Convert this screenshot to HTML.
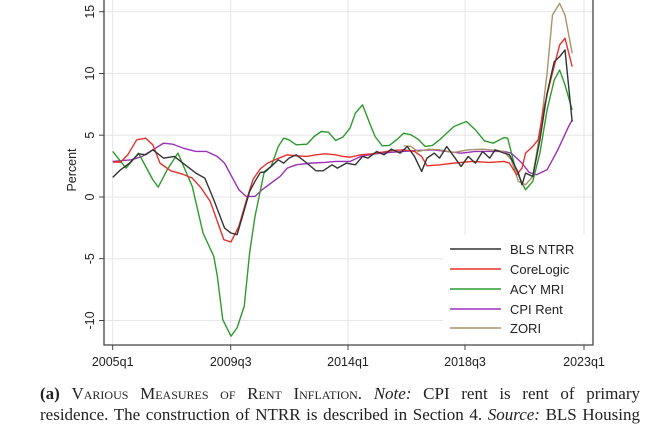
<!DOCTYPE html>
<html><head><meta charset="utf-8"><style>
body{margin:0;background:#fff;width:660px;height:420px;overflow:hidden;position:relative}
.cap{position:absolute;left:40px;width:600px;font-family:"Liberation Serif",serif;font-size:17px;color:#222;white-space:nowrap;text-align:justify;text-align-last:justify}
.sc{font-variant:small-caps}
</style></head><body>
<svg width="660" height="380" style="position:absolute;left:0;top:0" font-family="Liberation Sans, sans-serif">
<g stroke="#e6e6e6" stroke-width="1">
<line x1="104" x2="593" y1="11.7" y2="11.7"/><line x1="104" x2="593" y1="73.5" y2="73.5"/>
<line x1="104" x2="593" y1="135.2" y2="135.2"/><line x1="104" x2="593" y1="197" y2="197"/>
<line x1="104" x2="593" y1="258.7" y2="258.7"/><line x1="104" x2="593" y1="320.5" y2="320.5"/>
<line x1="112.7" x2="112.7" y1="0" y2="345"/><line x1="230.7" x2="230.7" y1="0" y2="345"/>
<line x1="348" x2="348" y1="0" y2="345"/><line x1="465" x2="465" y1="0" y2="345"/>
<line x1="584" x2="584" y1="0" y2="345"/>
</g>
<g transform="translate(59.66,0.05) scale(0.3584,0.3328)" fill="none" stroke-width="1.4" stroke-linejoin="round">
<polyline vector-effect="non-scaling-stroke" stroke="#9b30b8" points="148,485 200,480 230,470 260,450 290,430 315,433 345,445 380,455 410,455 440,470 460,490 480,530 500,570 520,590 545,590 565,570 590,550 615,530 635,505 660,495 700,490 740,488 770,485 810,485 840,470 880,462 920,458 960,455 1000,452 1040,450 1080,455 1120,460 1160,455 1200,455 1240,455 1260,460 1290,490 1310,518 1330,525 1360,510 1390,450 1420,380 1430,360"/>
<polyline vector-effect="non-scaling-stroke" stroke="#2e9a2e" points="148,455 185,505 220,460 260,540 275,562 300,510 330,460 370,560 400,700 430,770 440,830 455,960 478,1010 495,985 515,920 530,760 545,650 570,520 590,500 610,440 625,415 640,420 660,435 690,433 710,410 730,395 750,397 770,422 790,412 810,385 825,340 845,315 865,370 880,410 900,438 920,437 940,420 960,400 980,405 1000,418 1020,440 1040,437 1060,420 1080,400 1100,380 1135,365 1160,390 1185,423 1210,430 1240,413 1250,415 1270,500 1290,550 1300,570 1320,545 1340,460 1360,330 1380,240 1395,210 1410,255 1430,330"/>
<polyline vector-effect="non-scaling-stroke" stroke="#a89468" points="960,438 980,440 1000,455 1030,448 1060,450 1100,458 1140,450 1180,448 1200,450 1240,455 1260,480 1280,545 1300,555 1320,530 1340,400 1360,220 1375,45 1395,10 1410,45 1430,160"/>
<polyline vector-effect="non-scaling-stroke" stroke="#e8302c" points="148,487 170,487 190,465 215,420 240,415 260,435 280,490 310,513 340,522 370,535 395,565 420,605 440,665 458,720 478,727 500,680 520,605 540,538 560,507 580,490 605,478 635,465 660,468 690,470 715,465 740,462 770,465 790,470 810,472 840,465 870,462 900,457 930,452 960,450 990,455 1010,470 1025,498 1060,495 1100,490 1150,485 1200,488 1240,485 1255,490 1275,525 1290,505 1300,460 1320,440 1335,420 1350,330 1370,240 1395,135 1410,115 1430,200"/>
<polyline vector-effect="non-scaling-stroke" stroke="#333" points="148,533 170,510 195,490 220,462 240,465 260,450 290,475 320,470 350,495 380,520 405,535 430,600 460,685 478,700 495,705 510,650 530,575 545,545 560,518 570,517 590,500 610,480 625,490 640,475 660,465 690,490 715,513 735,513 760,495 775,505 800,490 825,495 845,470 860,475 885,455 905,465 925,448 950,460 970,440 990,470 1010,515 1025,475 1045,460 1060,475 1080,440 1100,470 1120,500 1140,470 1160,490 1180,455 1200,475 1215,450 1240,460 1255,465 1280,520 1290,555 1300,520 1320,530 1340,420 1360,280 1380,185 1395,170 1410,150 1430,365"/>
</g>
<rect x="443" y="235" width="150" height="108" fill="#fff"/>
<g stroke-width="1.5">
<line x1="450" x2="501" y1="249" y2="249" stroke="#333"/>
<line x1="450" x2="501" y1="269" y2="269" stroke="#e8302c"/>
<line x1="450" x2="501" y1="289" y2="289" stroke="#2e9a2e"/>
<line x1="450" x2="501" y1="309" y2="309" stroke="#9b30b8"/>
<line x1="450" x2="501" y1="328" y2="328" stroke="#a89468"/>
</g>
<g font-size="13" fill="#222">
<text x="510" y="254">BLS NTRR</text><text x="510" y="274">CoreLogic</text>
<text x="510" y="294">ACY MRI</text><text x="510" y="314">CPI Rent</text><text x="510" y="333">ZORI</text>
</g>
<g stroke="#444" stroke-width="1.3" fill="none">
<polyline points="104,0 104,345 593,345 593,0"/>
</g>
<g stroke="#444" stroke-width="1">
<line x1="99" x2="104" y1="11.7" y2="11.7"/><line x1="99" x2="104" y1="73.5" y2="73.5"/>
<line x1="99" x2="104" y1="135.2" y2="135.2"/><line x1="99" x2="104" y1="197" y2="197"/>
<line x1="99" x2="104" y1="258.7" y2="258.7"/><line x1="99" x2="104" y1="320.5" y2="320.5"/>
<line x1="112.7" x2="112.7" y1="345" y2="350"/><line x1="230.7" x2="230.7" y1="345" y2="350"/>
<line x1="348" x2="348" y1="345" y2="350"/><line x1="465" x2="465" y1="345" y2="350"/>
<line x1="584" x2="584" y1="345" y2="350"/>
</g>
<g font-size="12.5" fill="#222" text-anchor="middle">
<text transform="translate(94,11.7) rotate(-90)">15</text>
<text transform="translate(94,73.5) rotate(-90)">10</text>
<text transform="translate(94,135.2) rotate(-90)">5</text>
<text transform="translate(94,197) rotate(-90)">0</text>
<text transform="translate(94,258.7) rotate(-90)">-5</text>
<text transform="translate(94,320.5) rotate(-90)">-10</text>
<text transform="translate(76,170) rotate(-90)">Percent</text>
<text x="112.7" y="366">2005q1</text><text x="230.7" y="366">2009q3</text>
<text x="348" y="366">2014q1</text><text x="465" y="366">2018q3</text><text x="584" y="366">2023q1</text>
</g>
</svg>
<div class="cap" style="top:384px"><b>(a)</b> <span class="sc">Various Measures of Rent Inflation.</span> <i>Note:</i> CPI rent is rent of primary</div>
<div class="cap" style="top:405px">residence. The construction of NTRR is described in Section 4. <i>Source:</i> BLS Housing</div>
</body></html>
